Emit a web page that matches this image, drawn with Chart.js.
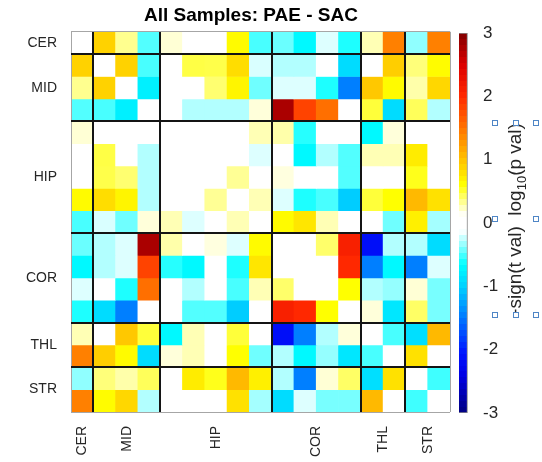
<!DOCTYPE html>
<html><head><meta charset="utf-8">
<script src="https://cdn.jsdelivr.net/npm/chart.js@4"></script>
<style>
html,body{margin:0;padding:0;background:#fff;overflow:hidden;}
#wrap{position:relative;width:542px;height:462px;background:#fff;}
#c1,#c2{position:absolute;left:0;top:0;}
</style></head><body>
<div id="wrap"><canvas id="c1" width="502" height="462"></canvas><canvas id="c2" width="542" height="462"></canvas></div>
<script>
// ---- data ----
const groupLabels = ['CER','MID','HIP','COR','THL','STR'];
const groupSizes  = [1, 3, 5, 4, 2, 2];
const colorbarTicks = [-3,-2,-1,0,1,2,3];

const rowCER  = [0, 0.9, 0.33, -0.48, 0.2, 0, 0, 0.63, -0.5, -0.43, -0.7, -0.19, -0.59, 0.26, 1.42, -0.35, 1.42];
const rowMID1 = [0.9, 0, 0.9, -0.5, 0, 0.47, 0.46, 0.83, -0.2, -0.28, -0.28, 0, -0.92, 0, 0.93, 0.37, 0.62];
const rowMID2 = [0.33, 0.9, 0, -0.77, 0, 0, 0.39, 0.67, -0.42, -0.19, -0.19, -0.59, -1.46, 0.97, 0.63, 0.28, 0.87];
const rowMID3 = [-0.48, -0.5, -0.77, 0, 0, -0.28, -0.28, -0.28, 0.19, 2.77, 1.82, 1.53, 0, 0.49, -0.92, 0.43, -0.28];
const rowHIP1 = [0.2, 0, 0, 0, 0, 0, 0, 0, 0.26, 0.28, -0.57, 0, 0, -0.7, 0.19, 0, 0];
const rowHIP2 = [0, 0.47, 0, -0.28, 0, 0, 0, 0, -0.19, 0, -0.7, -0.28, -0.48, 0.26, 0.26, 0.73, 0];
const rowHIP3 = [0, 0.46, 0.39, -0.28, 0, 0, 0, 0.32, 0, 0.18, 0, 0, -0.48, 0, 0, 0.55, 0];
const rowHIP4 = [0.63, 0.83, 0.67, -0.28, 0, 0, 0.32, 0, 0.26, -0.19, -0.59, -0.5, -1.03, 0.49, 0.6, 1.06, 0.8];
const rowHIP5 = [-0.5, -0.2, -0.42, 0.19, 0.26, -0.19, 0, 0.26, 0, 0.63, 0.77, 0.26, 0, 0, -0.42, 0.7, -0.31];
const rowCOR1 = [-0.43, -0.28, -0.19, 2.77, 0.28, 0, 0.18, -0.19, 0.63, 0, 0, 0.4, 2.1, -2.15, -0.28, -0.28, -0.92];
const rowCOR2 = [-0.7, -0.28, -0.19, 1.82, -0.57, -0.7, 0, -0.59, 0.77, 0, 0, 0, 2.0, -1.46, -0.7, -1.46, -0.19];
const rowCOR3 = [-0.19, 0, -0.59, 1.53, 0, -0.28, 0, -0.5, 0.26, 0.4, 0, 0, 0.6, -0.28, -0.34, 0.2, -0.4];
const rowCOR4 = [-0.59, -0.92, -1.46, 0, 0, -0.48, -0.48, -1.03, 0, 2.1, 2.0, 0.6, 0, 0.19, -0.84, 0.41, -0.4];
const rowTHL1 = [0.26, 0, 0.97, 0.49, -0.7, 0.26, 0, 0.49, 0, -2.15, -1.46, -0.28, 0.19, 0, -0.5, -0.9, 1.06];
const rowTHL2 = [1.42, 0.93, 0.63, -0.92, 0.19, 0.26, 0, 0.6, -0.42, -0.28, -0.7, -0.34, -0.84, -0.5, 0, 0.8, 0];
const rowSTR1 = [-0.35, 0.37, 0.28, 0.43, 0, 0.73, 0.55, 1.06, 0.7, -0.28, -1.46, 0.2, 0.41, -0.9, 0.8, 0, -0.52];
const rowSTR2 = [1.42, 0.62, 0.87, -0.28, 0, 0, 0, 0.8, -0.31, -0.92, -0.19, -0.4, -0.4, 1.06, 0, -0.52, 0];

const matrix = [rowCER, rowMID1, rowMID2, rowMID3, rowHIP1, rowHIP2, rowHIP3, rowHIP4, rowHIP5,
                rowCOR1, rowCOR2, rowCOR3, rowCOR4, rowTHL1, rowTHL2, rowSTR1, rowSTR2];

// ---- derived layout helpers ----
const N = matrix.length;
const boundaries = [0];
groupSizes.forEach(s => boundaries.push(boundaries[boundaries.length-1] + s));
const centers = groupSizes.map((s, k) => boundaries[k] + s / 2);

// ---- colormap (white-centred jet) ----
const stops = [
  [-3.0, [0,0,128]], [-2.4, [0,0,230]], [-2.05, [0,20,255]], [-1.5, [0,120,255]],
  [-1.0, [0,210,255]], [-0.65, [0,255,255]], [-0.12, [255,255,255]], [0.12, [255,255,255]],
  [0.6, [255,255,0]], [1.0, [255,195,0]], [1.5, [255,115,0]], [2.0, [255,40,0]],
  [2.5, [220,0,0]], [3.0, [128,0,0]]
];
function cmap(v){
  if (v <= stops[0][0]) return 'rgb(' + stops[0][1].join(',') + ')';
  for (let k = 1; k < stops.length; k++){
    if (v <= stops[k][0]){
      const [a, ca] = stops[k-1], [b, cb] = stops[k];
      const t = (v - a) / (b - a);
      const c = ca.map((x, i) => Math.round(x + (cb[i] - x) * t));
      return 'rgb(' + c.join(',') + ')';
    }
  }
  return 'rgb(' + stops[stops.length-1][1].join(',') + ')';
}

const FONT = "'Liberation Sans', Arial, Helvetica, sans-serif";
const TXT = '#262626';

// ---- heatmap chart ----
const datasets = matrix.map((row, i) => ({
  type: 'bar',
  data: row.map((v, j) => ({ x: j + 0.5, y: [i, i + 1] })),
  backgroundColor: row.map(v => cmap(v)),
  borderWidth: 0,
  grouped: false,
  barPercentage: 1,
  categoryPercentage: 1,
  xAxisID: 'x',
  yAxisID: 'y'
}));

const isEdge = c => c.tick && (c.tick.value === 0 || c.tick.value === N);
const sepGrid = {
  z: 1,
  drawTicks: false,
  color: c => isEdge(c) ? '#a6a6a6' : '#141414',
  lineWidth: c => isEdge(c) ? 1 : 2
};

new Chart(document.getElementById('c1'), {
  type: 'bar',
  data: { datasets },
  options: {
    responsive: false,
    animation: false,
    layout: { padding: 0 },
    plugins: {
      legend: { display: false },
      tooltip: { enabled: false },
      title: {
        display: true,
        text: 'All Samples: PAE - SAC',
        color: '#000',
        font: { family: FONT, size: 19, weight: 'bold' },
        padding: { top: 4, bottom: 5 }
      }
    },
    scales: {
      x: {
        type: 'linear', min: 0, max: N, position: 'bottom', offset: false,
        grid: { display: false, drawTicks: false, offset: false },
        border: { display: false },
        afterBuildTicks: s => { s.ticks = centers.map(v => ({ value: v })); },
        ticks: {
          autoSkip: false, minRotation: 90, maxRotation: 90, padding: 14,
          color: TXT, font: { family: FONT, size: 14 },
          callback: (v, idx) => groupLabels[idx]
        },
        afterFit: s => { s.height = 50; }
      },
      y: {
        type: 'linear', min: 0, max: N, reverse: true, position: 'left',
        grid: { display: false, drawTicks: false },
        border: { display: false },
        afterBuildTicks: s => { s.ticks = centers.map(v => ({ value: v })); },
        ticks: {
          autoSkip: false, padding: 14,
          color: TXT, font: { family: FONT, size: 14 },
          callback: (v, idx) => groupLabels[idx]
        },
        afterFit: s => { s.width = 71; }
      },
      yr: {
        type: 'linear', min: 0, max: N, position: 'right',
        grid: { display: false, drawTicks: false },
        border: { display: false },
        ticks: { display: false },
        afterFit: s => { s.width = 52; }
      },
      xs: {
        type: 'linear', min: 0, max: N, position: 'bottom', offset: false,
        grid: Object.assign({ offset: false }, sepGrid),
        border: { display: false },
        ticks: { display: false },
        afterBuildTicks: s => { s.ticks = boundaries.map(v => ({ value: v })); },
        afterFit: s => { s.height = 0; }
      },
      ys: {
        type: 'linear', min: 0, max: N, reverse: true, position: 'left',
        grid: sepGrid,
        border: { display: false },
        ticks: { display: false },
        afterBuildTicks: s => { s.ticks = boundaries.map(v => ({ value: v })); },
        afterFit: s => { s.width = 0; }
      }
    }
  }
});

// ---- colorbar chart ----
const cbLabelPlugin = {
  id: 'cbLabel',
  afterDraw(chart){
    const ctx = chart.ctx;
    const ys = chart.scales.y;
    const cx = chart.chartArea.right + 40;
    const cy = (ys.top + ys.bottom) / 2 - 4;
    const main = "-sign(t val)  log";
    const sub = "10";
    const tail = "(p val)";
    ctx.save();
    ctx.fillStyle = TXT;
    ctx.font = "19px " + FONT;
    const w1 = ctx.measureText(main).width;
    const w3 = ctx.measureText(tail).width;
    ctx.font = "13px " + FONT;
    const w2 = ctx.measureText(sub).width;
    const total = w1 + w2 + w3;
    ctx.translate(cx, cy);
    ctx.rotate(-Math.PI / 2);
    ctx.textBaseline = 'middle';
    ctx.textAlign = 'left';
    let x0 = -total / 2;
    ctx.font = "19px " + FONT;
    ctx.fillText(main, x0, 0);
    ctx.font = "13px " + FONT;
    ctx.fillText(sub, x0 + w1, 6);
    ctx.font = "19px " + FONT;
    ctx.fillText(tail, x0 + w1 + w2, 0);
    ctx.restore();
    // selection handles around the label
    const top = cy - total / 2, bot = cy + total / 2, mid = cy;
    const left = cx - 21, right = cx + 20, hc = cx;
    const pts = [[left, top],[hc, top],[right, top],[left, mid],[right, mid],[left, bot],[hc, bot],[right, bot]];
    ctx.save();
    ctx.strokeStyle = '#4f86c6';
    ctx.fillStyle = '#ffffff';
    ctx.lineWidth = 1;
    pts.forEach(([px, py]) => {
      const rx = Math.round(px) - 2.5, ry = Math.round(py) - 2.5;
      ctx.fillRect(rx, ry, 5, 5);
      ctx.strokeRect(rx, ry, 5, 5);
    });
    ctx.restore();
  }
};

function cbGradient(context){
  const chart = context.chart;
  if (!chart.chartArea) return '#fff';
  const ys = chart.scales.y;
  const lo = colorbarTicks[0], hi = colorbarTicks[colorbarTicks.length - 1];
  const y0 = ys.getPixelForValue(lo), y1 = ys.getPixelForValue(hi);
  const g = chart.ctx.createLinearGradient(0, y0, 0, y1);
  const L = 64;
  for (let k = 0; k < L; k++){
    const v = lo + (k + 0.5) * (hi - lo) / L;
    const c = cmap(v);
    g.addColorStop(k / L, c);
    g.addColorStop((k + 1) / L, c);
  }
  return g;
}

new Chart(document.getElementById('c2'), {
  type: 'bar',
  data: {
    labels: ['cb'],
    datasets: [{
      data: [[colorbarTicks[0], colorbarTicks[colorbarTicks.length - 1]]],
      backgroundColor: cbGradient,
      borderColor: '#8c8c8c',
      borderWidth: 1,
      borderSkipped: false,
      barPercentage: 1,
      categoryPercentage: 1
    }]
  },
  plugins: [cbLabelPlugin],
  options: {
    responsive: false,
    animation: false,
    layout: { padding: { left: 459, top: 33, bottom: 49, right: 0 } },
    plugins: { legend: { display: false }, tooltip: { enabled: false }, title: { display: false } },
    scales: {
      x: { display: false, offset: false },
      y: {
        type: 'linear', min: colorbarTicks[0], max: colorbarTicks[colorbarTicks.length - 1],
        position: 'right',
        afterBuildTicks: s => { s.ticks = colorbarTicks.map(v => ({ value: v })); },
        ticks: { padding: 7, color: TXT, font: { family: FONT, size: 17 } },
        grid: { display: false, drawOnChartArea: false, drawTicks: false },
        border: { display: false },
        afterFit: s => { s.width = 66; }
      }
    }
  }
});
</script>
</body></html>
